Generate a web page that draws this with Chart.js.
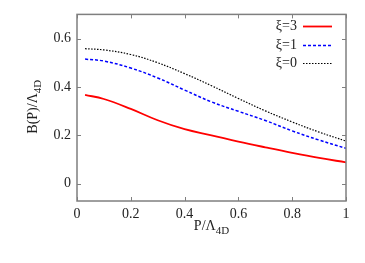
<!DOCTYPE html>
<html>
<head>
    <title>B(P) vs P</title>
    <script src="https://cdn.jsdelivr.net/npm/chart.js"></script>
    <style>
        body {
            margin: 0;
            background: white;
        }
    </style>
</head>
<body>

<canvas id="bChart" width="365" height="263"></canvas>

<script>
// data
const pValues = [0.03, 0.1, 0.2, 0.3, 0.4, 0.5, 0.6, 0.7, 0.8, 0.9, 1.0];
const xi3 = [0.367, 0.350, 0.309, 0.262, 0.225, 0.200, 0.174, 0.150, 0.127, 0.106, 0.088];
const xi1 = [0.515, 0.507, 0.478, 0.437, 0.387, 0.338, 0.299, 0.261, 0.218, 0.180, 0.146];
const xi0 = [0.558, 0.553, 0.534, 0.500, 0.455, 0.405, 0.352, 0.301, 0.255, 0.213, 0.176];
const seriesLabels = ['ξ=3', 'ξ=1', 'ξ=0'];
const xTicks = [0, 0.2, 0.4, 0.6, 0.8, 1];
const yTicks = [0, 0.2, 0.4, 0.6];

const FONT = '"Liberation Serif", "DejaVu Serif", serif';

function toPoints(ys) {
    return pValues.map((p, i) => ({ x: p, y: ys[i] }));
}

// frame, inner ticks, legend and axis titles (gnuplot look)
const framePlugin = {
    id: 'frame',
    afterDraw(chart) {
        const ctx = chart.ctx;
        const a = chart.chartArea;
        const xs = chart.scales.x;
        const ys = chart.scales.y;
        ctx.save();
        ctx.strokeStyle = '#7f7f7f';
        ctx.lineWidth = 1.5;
        ctx.strokeRect(a.left, a.top, a.right - a.left, a.bottom - a.top);
        ctx.lineWidth = 1;
        xTicks.forEach(v => {
            const px = Math.round(xs.getPixelForValue(v)) + 0.5;
            ctx.beginPath();
            ctx.moveTo(px, a.bottom); ctx.lineTo(px, a.bottom - 4);
            ctx.moveTo(px, a.top); ctx.lineTo(px, a.top + 4);
            ctx.stroke();
        });
        yTicks.forEach(v => {
            const py = Math.round(ys.getPixelForValue(v)) + 0.5;
            ctx.beginPath();
            ctx.moveTo(a.left, py); ctx.lineTo(a.left + 4, py);
            ctx.moveTo(a.right, py); ctx.lineTo(a.right - 4, py);
            ctx.stroke();
        });

        // legend
        ctx.font = '14px ' + FONT;
        ctx.fillStyle = '#222';
        ctx.textAlign = 'right';
        ctx.textBaseline = 'middle';
        const rows = [26, 45, 63];
        chart.data.datasets.forEach((ds, i) => {
            ctx.fillText(ds.label, 297, rows[i]);
            ctx.strokeStyle = ds.borderColor;
            ctx.lineWidth = ds.borderWidth;
            ctx.setLineDash(ds.borderDash || []);
            ctx.beginPath();
            ctx.moveTo(303, rows[i] + 0.5);
            ctx.lineTo(332, rows[i] + 0.5);
            ctx.stroke();
        });
        ctx.setLineDash([]);

        // x title P/Λ4D
        ctx.textAlign = 'left';
        ctx.textBaseline = 'alphabetic';
        ctx.fillStyle = '#222';
        ctx.font = '14px ' + FONT;
        const xt = 'P/Λ';
        const w1 = ctx.measureText(xt).width;
        ctx.font = '11px ' + FONT;
        const w2 = ctx.measureText('4D').width;
        let x0 = (a.left + a.right) / 2 - (w1 + w2) / 2;
        ctx.font = '14px ' + FONT;
        ctx.fillText(xt, x0, 230);
        ctx.font = '11px ' + FONT;
        ctx.fillText('4D', x0 + w1, 234);

        // y title B(P)/Λ4D
        ctx.translate(37, (a.top + a.bottom) / 2 - 1);
        ctx.rotate(-Math.PI / 2);
        ctx.font = '14px ' + FONT;
        const yt = 'B(P)/Λ';
        const v1 = ctx.measureText(yt).width;
        ctx.font = '11px ' + FONT;
        const v2 = ctx.measureText('4D').width;
        x0 = -(v1 + v2) / 2;
        ctx.font = '14px ' + FONT;
        ctx.fillText(yt, x0, 0);
        ctx.font = '11px ' + FONT;
        ctx.fillText('4D', x0 + v1, 4);
        ctx.restore();
    }
};

const ctx = document.getElementById('bChart');
new Chart(ctx, {
    type: 'line',
    data: {
        datasets: [{
            label: seriesLabels[0],
            data: toPoints(xi3),
            borderColor: '#ff0000',
            borderWidth: 1.8
        }, {
            label: seriesLabels[1],
            data: toPoints(xi1),
            borderColor: '#0000ff',
            borderWidth: 1.5,
            borderDash: [3, 2]
        }, {
            label: seriesLabels[2],
            data: toPoints(xi0),
            borderColor: '#000000',
            borderWidth: 1.2,
            borderDash: [1.5, 1.5]
        }]
    },
    options: {
        responsive: false,
        animation: false,
        devicePixelRatio: 1,
        layout: { padding: { left: 0, top: 13, right: 19, bottom: 0 } },
        elements: {
            point: { radius: 0 },
            line: { tension: 0.4 }
        },
        plugins: {
            legend: { display: false },
            tooltip: { enabled: false }
        },
        scales: {
            x: {
                type: 'linear',
                min: 0,
                max: 1,
                afterBuildTicks: s => { s.ticks = xTicks.map(v => ({ value: v })); },
                afterFit: s => { s.height = 62; },
                grid: { display: false, drawTicks: false },
                border: { display: false },
                ticks: {
                    padding: 5,
                    color: '#222',
                    font: { family: FONT, size: 14 },
                    callback: v => String(v)
                }
            },
            y: {
                type: 'linear',
                min: -0.072,
                max: 0.70,
                afterBuildTicks: s => { s.ticks = yTicks.map(v => ({ value: v })); },
                afterFit: s => { s.width = 77; },
                grid: { display: false, drawTicks: false },
                border: { display: false },
                ticks: {
                    padding: 6,
                    color: '#222',
                    font: { family: FONT, size: 14 },
                    callback: v => String(v)
                }
            }
        }
    },
    plugins: [framePlugin]
});
</script>

</body>
</html>
